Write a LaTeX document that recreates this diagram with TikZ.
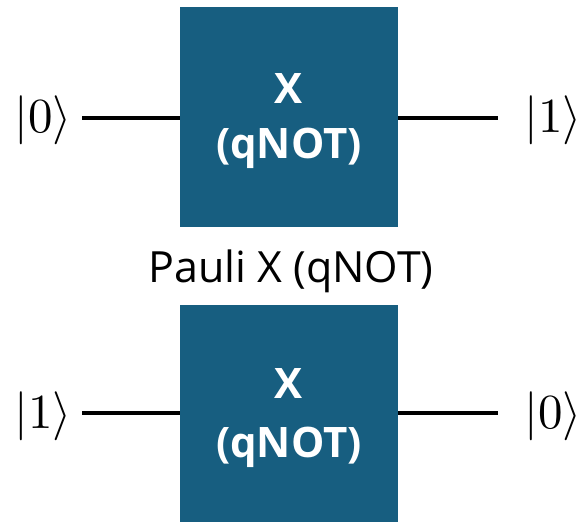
\documentclass[tikz,border=0pt]{standalone}
\usepackage{fontspec}
\setmainfont{Open Sans}
\definecolor{gatecol}{HTML}{175E80}
\newcommand{\bigket}[1]{\scalebox{4.9}{$|#1\rangle$}}
\begin{document}
\begin{tikzpicture}[x=1pt,y=-1pt,
  gate/.style={fill=gatecol,draw=none,minimum width=218pt,minimum height=220pt,inner sep=0pt},
  gtxt/.style={text=white,font=\fontsize{42}{48}\selectfont\bfseries,anchor=base,inner sep=0pt},
  ket/.style={anchor=base,inner sep=0pt},
  wire/.style={line width=4.5pt,black}]
\useasboundingbox (0,0) rectangle (587,522);
% top gate
\node[gate] (g1) at (289,117) {};
\node[gtxt] (g1a) at (289,103) {X};
\node[gtxt] (g1b) at (289,158) {(qNOT)};
\coordinate (w1l) at (82,118);
\coordinate (w1r) at (498,118);
\node[ket] (k1l) at (43,132) {\bigket{0}};
\node[ket] (k1r) at (553,132) {\bigket{1}};
\draw[wire] (w1l) -- (g1.west |- w1l);
\draw[wire] (g1.east |- w1r) -- (w1r);
% caption
\node[font=\fontsize{43}{48}\selectfont,anchor=base,inner sep=0pt] (cap) at (291,282) {Pauli X (qNOT)};
% bottom gate
\node[gate] (g2) at (289,415) {};
\node[gtxt] (g2a) at (289,398) {X};
\node[gtxt] (g2b) at (289,457) {(qNOT)};
\coordinate (w2l) at (82,413);
\coordinate (w2r) at (498,413);
\node[ket] (k2l) at (43,428) {\bigket{1}};
\node[ket] (k2r) at (553,428) {\bigket{0}};
\draw[wire] (w2l) -- (g2.west |- w2l);
\draw[wire] (g2.east |- w2r) -- (w2r);
\end{tikzpicture}
\end{document}
